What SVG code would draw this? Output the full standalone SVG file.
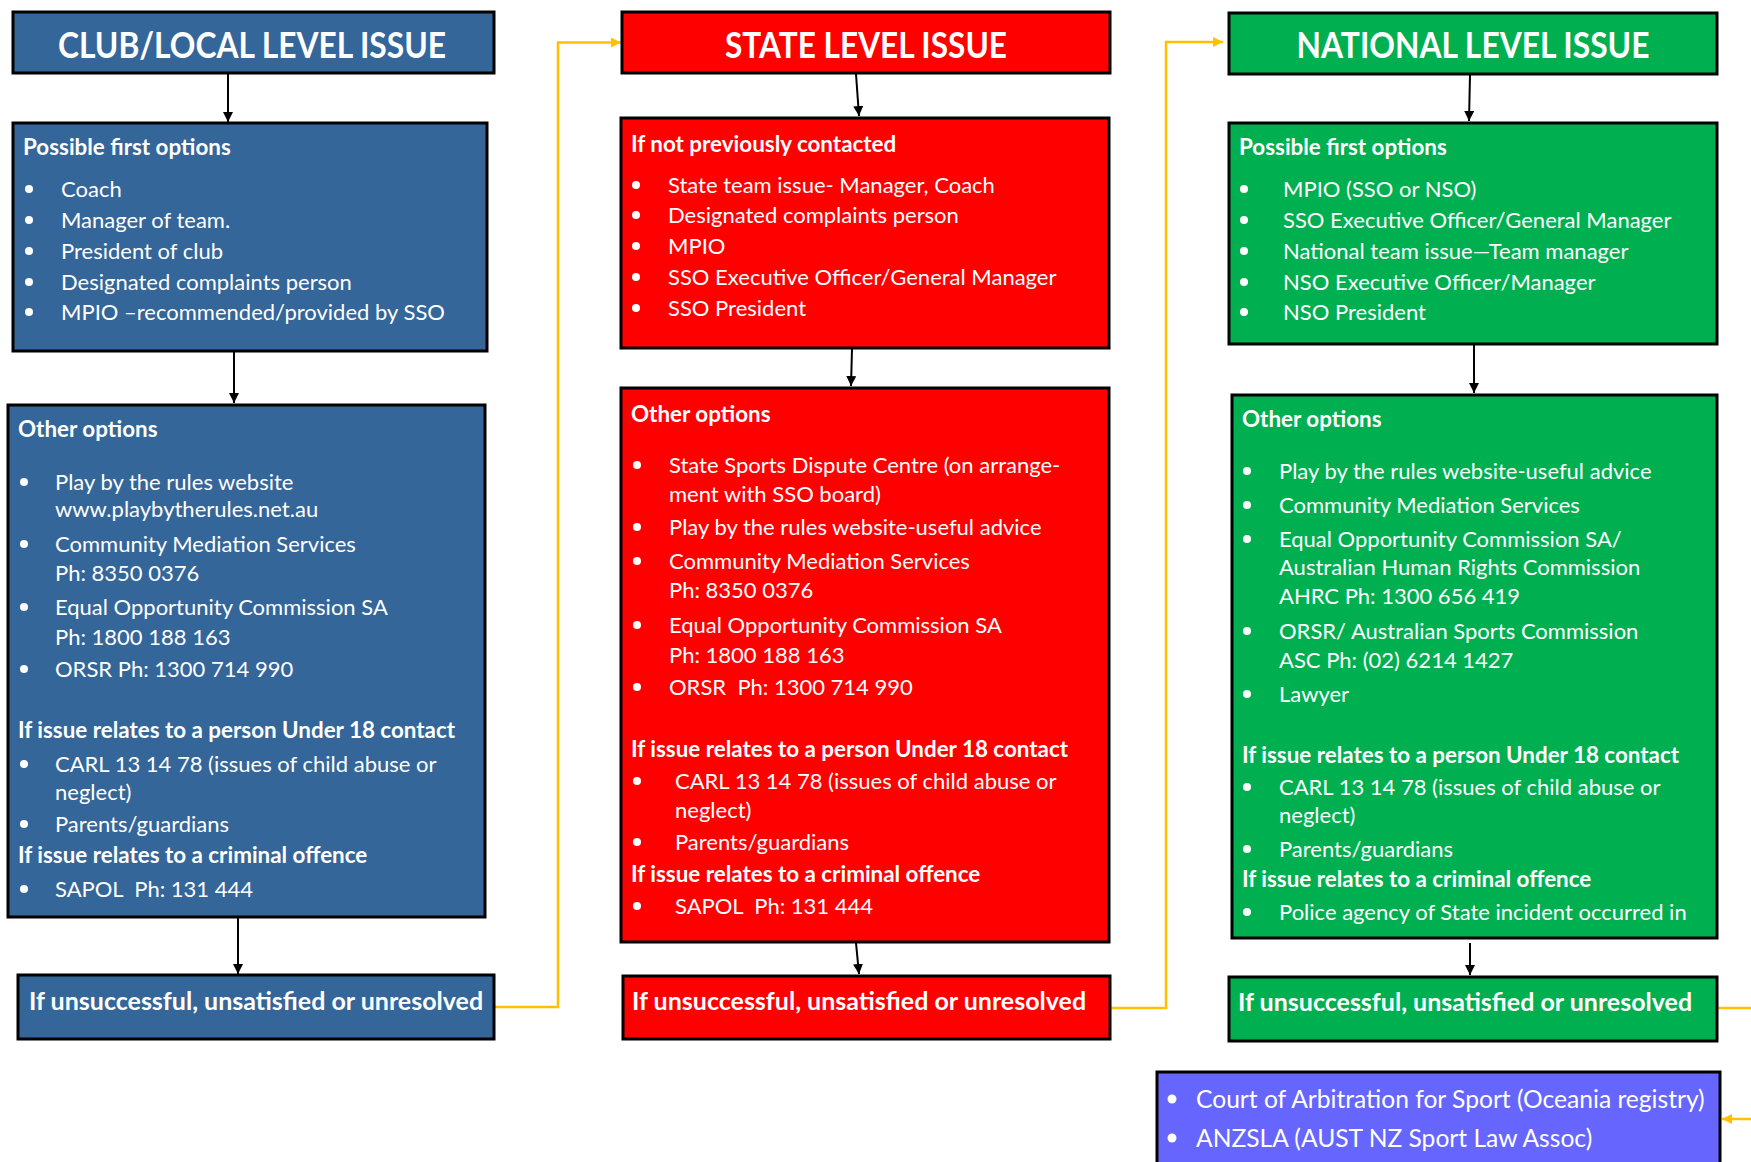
<svg xmlns="http://www.w3.org/2000/svg" width="1751" height="1162" viewBox="0 0 1751 1162">
<defs>
<style>
.box{stroke:#000;stroke-width:3}
.blue{fill:#346699}.red{fill:#FF0000}.green{fill:#00B050}.purple{fill:#6666FF}
text{font-family:Lato,"Liberation Sans",sans-serif;fill:#fff;white-space:pre}
.title{font-size:36px;font-weight:bold;text-anchor:middle}
.hd{font-size:22.4px;font-weight:bold}
.it{font-size:22px}
.un{font-size:25px;font-weight:bold}
.pt{font-size:24.6px}
.bl{fill:#fff}
.arr{stroke:#000;stroke-width:2;fill:none;marker-end:url(#ab)}
.oarr{stroke:#FFC000;stroke-width:2.5;fill:none;marker-end:url(#ao)}
</style>
<marker id="ab" viewBox="0 0 10 10" refX="10" refY="5" markerWidth="5" markerHeight="5" orient="auto" markerUnits="strokeWidth"><path d="M0,0L10,5L0,10z" fill="#000"/></marker>
<marker id="ao" viewBox="0 0 10 10" refX="10" refY="5" markerWidth="4" markerHeight="4" orient="auto" markerUnits="strokeWidth"><path d="M0,0L10,5L0,10z" fill="#FFC000"/></marker>
</defs>
<rect width="1751" height="1162" fill="#fff"/>

<g id="connectors">
<path class="arr" d="M228,74 V122"/>
<path class="arr" d="M234,352 V403"/>
<path class="arr" d="M238,918 V974"/>
<path class="arr" d="M856,74 L859,116"/>
<path class="arr" d="M852,349 L851,386"/>
<path class="arr" d="M856,943 L859,974"/>
<path class="arr" d="M1470,75 L1469,121"/>
<path class="arr" d="M1474,345 V393"/>
<path class="arr" d="M1470,943 V975"/>
<path class="oarr" d="M495,1007 H558 V42.5 H621"/>
<path class="oarr" d="M1111,1008 H1166 V42 H1223"/>
<path class="oarr" d="M1718,1008 H1762 V1119 H1722"/>
</g>

<g id="club-title">
<rect class="box blue" x="13" y="12" width="481" height="61"/>
<text class="title" x="252" y="58" textLength="388" lengthAdjust="spacingAndGlyphs">CLUB/LOCAL LEVEL ISSUE</text>
</g>
<g id="club-first">
<rect class="box blue" x="13" y="123" width="474" height="228"/>
<text class="hd" x="23" y="155">Possible first options</text>
<circle class="bl" cx="29" cy="189" r="4"/><text class="it" x="61" y="197">Coach</text>
<circle class="bl" cx="29" cy="220" r="4"/><text class="it" x="61" y="228">Manager of team.</text>
<circle class="bl" cx="29" cy="251" r="4"/><text class="it" x="61" y="259">President of club</text>
<circle class="bl" cx="29" cy="282" r="4"/><text class="it" x="61" y="290">Designated complaints person</text>
<circle class="bl" cx="29" cy="312" r="4"/><text class="it" x="61" y="320">MPIO –recommended/provided by SSO</text>
</g>
<g id="club-other">
<rect class="box blue" x="8" y="405" width="477" height="512"/>
<text class="hd" x="18" y="437">Other options</text>
<circle class="bl" cx="24" cy="482" r="4"/><text class="it" x="55" y="490">Play by the rules website</text>
<text class="it" x="55" y="517">www.playbytherules.net.au</text>
<circle class="bl" cx="24" cy="544" r="4"/><text class="it" x="55" y="552">Community Mediation Services</text>
<text class="it" x="55" y="581">Ph: 8350 0376</text>
<circle class="bl" cx="24" cy="607" r="4"/><text class="it" x="55" y="615">Equal Opportunity Commission SA</text>
<text class="it" x="55" y="645">Ph: 1800 188 163</text>
<circle class="bl" cx="24" cy="669" r="4"/><text class="it" x="55" y="677">ORSR Ph: 1300 714 990</text>
<text class="hd" x="18" y="738">If issue relates to a person Under 18 contact</text>
<circle class="bl" cx="24" cy="764" r="4"/><text class="it" x="55" y="772">CARL 13 14 78 (issues of child abuse or</text>
<text class="it" x="55" y="800">neglect)</text>
<circle class="bl" cx="24" cy="824" r="4"/><text class="it" x="55" y="832">Parents/guardians</text>
<text class="hd" x="18" y="863">If issue relates to a criminal offence</text>
<circle class="bl" cx="24" cy="889" r="4"/><text class="it" x="55" y="897">SAPOL  Ph: 131 444</text>
</g>
<g id="club-unresolved">
<rect class="box blue" x="18" y="975" width="476" height="64"/>
<text class="un" x="29" y="1010">If unsuccessful, unsatisfied or unresolved</text>
</g>

<g id="state-title">
<rect class="box red" x="622" y="12" width="488" height="61"/>
<text class="title" x="866" y="58" textLength="282" lengthAdjust="spacingAndGlyphs">STATE LEVEL ISSUE</text>
</g>
<g id="state-first">
<rect class="box red" x="621" y="118" width="488" height="230"/>
<text class="hd" x="631" y="152">If not previously contacted</text>
<circle class="bl" cx="636" cy="185" r="4"/><text class="it" x="668" y="193">State team issue- Manager, Coach</text>
<circle class="bl" cx="636" cy="215" r="4"/><text class="it" x="668" y="223">Designated complaints person</text>
<circle class="bl" cx="636" cy="246" r="4"/><text class="it" x="668" y="254">MPIO</text>
<circle class="bl" cx="636" cy="277" r="4"/><text class="it" x="668" y="285">SSO Executive Officer/General Manager</text>
<circle class="bl" cx="636" cy="308" r="4"/><text class="it" x="668" y="316">SSO President</text>
</g>
<g id="state-other">
<rect class="box red" x="621" y="388" width="488" height="554"/>
<text class="hd" x="631" y="422">Other options</text>
<circle class="bl" cx="637" cy="465" r="4"/><text class="it" x="669" y="473">State Sports Dispute Centre (on arrange-</text>
<text class="it" x="669" y="502">ment with SSO board)</text>
<circle class="bl" cx="637" cy="527" r="4"/><text class="it" x="669" y="535">Play by the rules website-useful advice</text>
<circle class="bl" cx="637" cy="561" r="4"/><text class="it" x="669" y="569">Community Mediation Services</text>
<text class="it" x="669" y="598">Ph: 8350 0376</text>
<circle class="bl" cx="637" cy="625" r="4"/><text class="it" x="669" y="633">Equal Opportunity Commission SA</text>
<text class="it" x="669" y="663">Ph: 1800 188 163</text>
<circle class="bl" cx="637" cy="687" r="4"/><text class="it" x="669" y="695">ORSR  Ph: 1300 714 990</text>
<text class="hd" x="631" y="757">If issue relates to a person Under 18 contact</text>
<circle class="bl" cx="637" cy="781" r="4"/><text class="it" x="675" y="789">CARL 13 14 78 (issues of child abuse or</text>
<text class="it" x="675" y="818">neglect)</text>
<circle class="bl" cx="637" cy="842" r="4"/><text class="it" x="675" y="850">Parents/guardians</text>
<text class="hd" x="631" y="882">If issue relates to a criminal offence</text>
<circle class="bl" cx="637" cy="906" r="4"/><text class="it" x="675" y="914">SAPOL  Ph: 131 444</text>
</g>
<g id="state-unresolved">
<rect class="box red" x="623" y="976" width="487" height="63"/>
<text class="un" x="632" y="1010">If unsuccessful, unsatisfied or unresolved</text>
</g>

<g id="national-title">
<rect class="box green" x="1229" y="13" width="488" height="61"/>
<text class="title" x="1473" y="58" textLength="353" lengthAdjust="spacingAndGlyphs">NATIONAL LEVEL ISSUE</text>
</g>
<g id="national-first">
<rect class="box green" x="1229" y="123" width="488" height="221"/>
<text class="hd" x="1239" y="155">Possible first options</text>
<circle class="bl" cx="1244" cy="189" r="4"/><text class="it" x="1283" y="197">MPIO (SSO or NSO)</text>
<circle class="bl" cx="1244" cy="220" r="4"/><text class="it" x="1283" y="228">SSO Executive Officer/General Manager</text>
<circle class="bl" cx="1244" cy="251" r="4"/><text class="it" x="1283" y="259">National team issue—Team manager</text>
<circle class="bl" cx="1244" cy="282" r="4"/><text class="it" x="1283" y="290">NSO Executive Officer/Manager</text>
<circle class="bl" cx="1244" cy="312" r="4"/><text class="it" x="1283" y="320">NSO President</text>
</g>
<g id="national-other">
<rect class="box green" x="1232" y="395" width="485" height="543"/>
<text class="hd" x="1242" y="427">Other options</text>
<circle class="bl" cx="1247" cy="471" r="4"/><text class="it" x="1279" y="479">Play by the rules website-useful advice</text>
<circle class="bl" cx="1247" cy="505" r="4"/><text class="it" x="1279" y="513">Community Mediation Services</text>
<circle class="bl" cx="1247" cy="539" r="4"/><text class="it" x="1279" y="547">Equal Opportunity Commission SA/</text>
<text class="it" x="1279" y="575">Australian Human Rights Commission</text>
<text class="it" x="1279" y="604">AHRC Ph: 1300 656 419</text>
<circle class="bl" cx="1247" cy="631" r="4"/><text class="it" x="1279" y="639">ORSR/ Australian Sports Commission</text>
<text class="it" x="1279" y="668">ASC Ph: (02) 6214 1427</text>
<circle class="bl" cx="1247" cy="694" r="4"/><text class="it" x="1279" y="702">Lawyer</text>
<text class="hd" x="1242" y="763">If issue relates to a person Under 18 contact</text>
<circle class="bl" cx="1247" cy="787" r="4"/><text class="it" x="1279" y="795">CARL 13 14 78 (issues of child abuse or</text>
<text class="it" x="1279" y="823">neglect)</text>
<circle class="bl" cx="1247" cy="849" r="4"/><text class="it" x="1279" y="857">Parents/guardians</text>
<text class="hd" x="1242" y="887">If issue relates to a criminal offence</text>
<circle class="bl" cx="1247" cy="912" r="4"/><text class="it" x="1279" y="920">Police agency of State incident occurred in</text>
</g>
<g id="national-unresolved">
<rect class="box green" x="1229" y="977" width="488" height="64"/>
<text class="un" x="1238" y="1011">If unsuccessful, unsatisfied or unresolved</text>
</g>

<g id="appeal">
<rect class="box purple" x="1157" y="1072" width="563" height="110"/>
<circle class="bl" cx="1172" cy="1099" r="4.5"/><text class="pt" x="1196" y="1108">Court of Arbitration for Sport (Oceania registry)</text>
<circle class="bl" cx="1172" cy="1138" r="4.5"/><text class="pt" x="1196" y="1147">ANZSLA (AUST NZ Sport Law Assoc)</text>
</g>
</svg>
